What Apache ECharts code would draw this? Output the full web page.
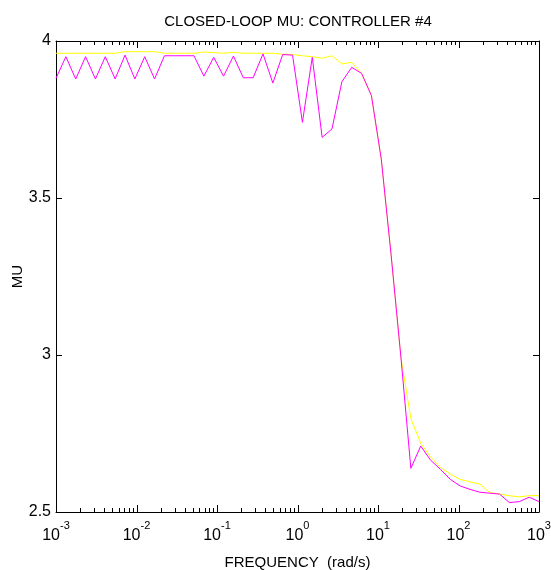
<!DOCTYPE html>
<html>
<head>
<meta charset="utf-8">
<script src="https://cdn.jsdelivr.net/npm/echarts@6/dist/echarts.min.js"></script>
<style>
  html, body { margin: 0; padding: 0; background: #fff; }
  #main { width: 551px; height: 570px; }
</style>
</head>
<body>
<div id="main"></div>
<script>
// frequency grid (rad/s), 50 log-spaced points
const freq = [
  0.001, 0.001326, 0.001758, 0.002330, 0.003089, 0.004095, 0.005429, 0.007197, 0.009541, 0.01265,
  0.01677, 0.02223, 0.02947, 0.03907, 0.05179, 0.06866, 0.09103, 0.1207, 0.1600, 0.2121,
  0.2812, 0.3728, 0.4942, 0.6551, 0.8685, 1.151, 1.526, 2.024, 2.683, 3.556,
  4.714, 6.250, 8.286, 10.98, 14.56, 19.31, 25.59, 33.93, 44.98, 59.63,
  79.05, 104.8, 138.9, 184.2, 244.2, 323.7, 429.1, 568.9, 754.2, 1000
];

// upper bound (yellow)
const muYellow = [
  3.961, 3.961, 3.961, 3.961, 3.961, 3.961, 3.961, 3.966, 3.966, 3.966,
  3.966, 3.961, 3.961, 3.961, 3.961, 3.965, 3.963, 3.961, 3.964, 3.961,
  3.961, 3.961, 3.961, 3.958, 3.957, 3.953, 3.950, 3.945, 3.953, 3.927,
  3.932, 3.897, 3.826, 3.624, 3.318, 2.990, 2.798, 2.719, 2.675, 2.642,
  2.621, 2.604, 2.596, 2.589, 2.562, 2.557, 2.552, 2.548, 2.552, 2.552
];

// lower bound (magenta)
const muMagenta = [
  3.881, 3.950, 3.879, 3.950, 3.879, 3.950, 3.879, 3.955, 3.879, 3.950,
  3.879, 3.953, 3.953, 3.953, 3.953, 3.888, 3.948, 3.888, 3.952, 3.883,
  3.883, 3.959, 3.866, 3.957, 3.955, 3.741, 3.948, 3.693, 3.720, 3.870,
  3.916, 3.897, 3.826, 3.624, 3.318, 2.990, 2.639, 2.710, 2.665, 2.636,
  2.604, 2.583, 2.572, 2.563, 2.560, 2.557, 2.530, 2.533, 2.547, 2.533
];

const majorTicks = [0.001, 0.01, 0.1, 1, 10, 100, 1000];
const minorTicks = [
  0.002, 0.003, 0.004, 0.005, 0.006, 0.007, 0.008, 0.009,
  0.02, 0.03, 0.04, 0.05, 0.06, 0.07, 0.08, 0.09,
  0.2, 0.3, 0.4, 0.5, 0.6, 0.7, 0.8, 0.9,
  2, 3, 4, 5, 6, 7, 8, 9,
  20, 30, 40, 50, 60, 70, 80, 90,
  200, 300, 400, 500, 600, 700, 800, 900
];
const yMin = 2.5;
const yMax = 4;

const FONT = "'Liberation Sans', Arial, sans-serif";
const chart = echarts.init(document.getElementById('main'), null, { renderer: 'canvas' });

function logAxis(pos) {
  return {
    type: 'log',
    logBase: 10,
    position: pos,
    min: 0.001,
    max: 1000,
    axisLine: { show: true, onZero: false, lineStyle: { color: '#000', width: 1 } },
    axisTick: { show: false },
    axisLabel: { show: false },
    splitLine: { show: false },
    minorTick: { show: false }
  };
}

// inward tick marks on the top and bottom edges, placed through the x axis
function tickRenderer(len) {
  return function (params, api) {
    const v = api.value(0);
    const b = api.coord([v, yMin]);
    const t = api.coord([v, yMax]);
    const x = Math.round(b[0]) + 0.5;
    const st = { stroke: '#000', lineWidth: 1 };
    return {
      type: 'group',
      children: [
        { type: 'line', shape: { x1: x, y1: b[1], x2: x, y2: b[1] - len }, style: st },
        { type: 'line', shape: { x1: x, y1: t[1], x2: x, y2: t[1] + len }, style: st }
      ]
    };
  };
}

const xMain = logAxis('bottom');
xMain.axisLabel = {
  show: true,
  customValues: majorTicks,
  margin: 8,
  color: '#000',
  fontFamily: FONT,
  formatter: function (v) {
    const e = String(Math.round(Math.log10(v)));
    return '{b|10}{s|' + e + '}';
  },
  rich: {
    b: { fontSize: 16, lineHeight: 24, verticalAlign: 'bottom', color: '#000', fontFamily: FONT },
    s: { fontSize: 11, lineHeight: 11, verticalAlign: 'top', color: '#000', fontFamily: FONT }
  }
};
xMain.name = 'FREQUENCY  (rad/s)';
xMain.nameLocation = 'middle';
xMain.nameGap = 43;
xMain.nameMoveOverlap = false;
xMain.nameTextStyle = { color: '#000', fontSize: 15, fontFamily: FONT };

function yAxis(pos, showLabel) {
  return {
    type: 'value',
    position: pos,
    min: yMin,
    max: yMax,
    interval: 0.5,
    axisLine: { show: true, onZero: false, lineStyle: { color: '#000', width: 1 } },
    axisTick: { show: true, inside: true, length: 6, lineStyle: { color: '#000' } },
    axisLabel: { show: showLabel, margin: 5, color: '#000', fontSize: 16, fontFamily: FONT },
    splitLine: { show: false }
  };
}

const yLeft = yAxis('left', true);
yLeft.name = 'MU';
yLeft.nameLocation = 'middle';
yLeft.nameGap = 31;
yLeft.nameMoveOverlap = false;
yLeft.nameTextStyle = { color: '#000', fontSize: 15, fontFamily: FONT };

const option = {
  backgroundColor: '#fff',
  animation: false,
  title: {
    text: 'CLOSED-LOOP MU: CONTROLLER #4',
    left: 293,
    top: 9,
    textAlign: 'center',
    textStyle: { color: '#000', fontSize: 15, fontWeight: 'normal', fontFamily: FONT }
  },
  grid: { left: 56, right: 12, top: 41, bottom: 58, containLabel: false, outerBoundsMode: 'none' },
  xAxis: [xMain, logAxis('top')],
  yAxis: [yLeft, yAxis('right', false)],
  series: [
    {
      type: 'custom',
      renderItem: tickRenderer(4),
      data: minorTicks.map(v => [v, yMin]),
      encode: { x: 0, y: 1 },
      clip: false,
      silent: true
    },
    {
      type: 'custom',
      renderItem: tickRenderer(7),
      data: majorTicks.map(v => [v, yMin]),
      encode: { x: 0, y: 1 },
      clip: false,
      silent: true
    },
    {
      type: 'line',
      data: freq.map((f, i) => [f, muYellow[i]]),
      showSymbol: false,
      lineStyle: { color: '#ffff00', width: 1 },
      itemStyle: { color: '#ffff00' }
    },
    {
      type: 'line',
      data: freq.map((f, i) => [f, muMagenta[i]]),
      showSymbol: false,
      lineStyle: { color: '#ff00ff', width: 1 },
      itemStyle: { color: '#ff00ff' }
    }
  ]
};

chart.setOption(option);
</script>
</body>
</html>
